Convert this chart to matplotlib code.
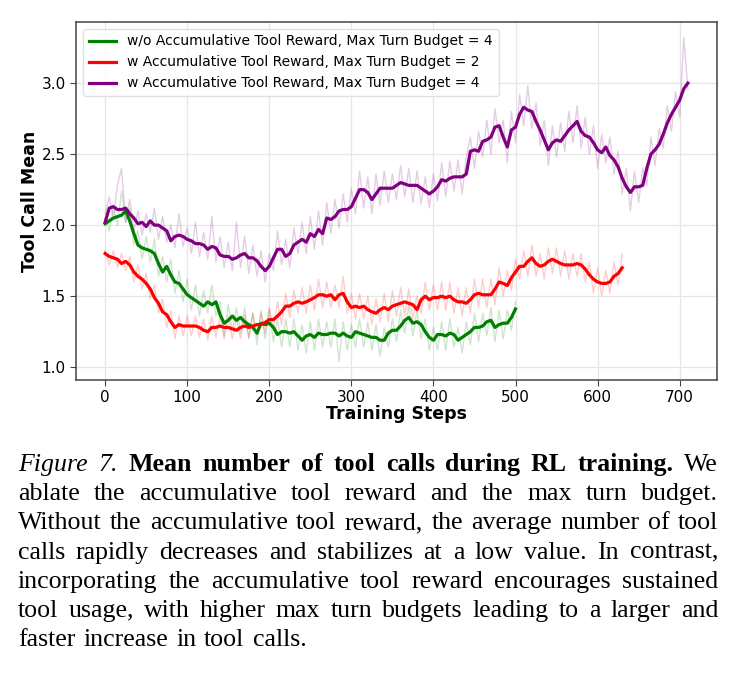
import numpy as np
import matplotlib
matplotlib.use("Agg")
import matplotlib.pyplot as plt

# smoothed curves, read every 5 training steps
steps_green = np.arange(0, 501, 5)
green_smooth = [2.01, 2.03, 2.05, 2.06, 2.07, 2.10, 2.03, 1.94, 1.86, 1.84, 1.83, 1.82, 1.80, 1.73, 1.67, 1.71, 1.65, 1.60, 1.59, 1.55,
                1.51, 1.49, 1.47, 1.45, 1.43, 1.46, 1.44, 1.46, 1.37, 1.31, 1.33, 1.36, 1.33, 1.35, 1.32, 1.30, 1.28, 1.24, 1.31, 1.30,
                1.31, 1.28, 1.23, 1.25, 1.25, 1.24, 1.25, 1.22, 1.19, 1.22, 1.23, 1.21, 1.24, 1.23, 1.23, 1.24, 1.24, 1.22, 1.24, 1.22,
                1.21, 1.25, 1.24, 1.23, 1.22, 1.21, 1.21, 1.19, 1.19, 1.24, 1.26, 1.26, 1.29, 1.33, 1.35, 1.31, 1.32, 1.30, 1.25, 1.21,
                1.19, 1.23, 1.23, 1.22, 1.24, 1.23, 1.19, 1.21, 1.23, 1.25, 1.28, 1.28, 1.29, 1.32, 1.33, 1.28, 1.30, 1.31, 1.31, 1.35,
                1.41]
green_raw = [2.05, 1.96, 2.14, 2.00, 2.24, 2.02, 2.12, 1.86, 1.96, 1.76, 1.92, 1.74, 1.90, 1.64, 1.78, 1.60, 1.76, 1.52, 1.68, 1.46,
             1.62, 1.40, 1.58, 1.36, 1.54, 1.38, 1.58, 1.36, 1.46, 1.22, 1.44, 1.26, 1.42, 1.24, 1.42, 1.20, 1.38, 1.16, 1.40, 1.20,
             1.40, 1.18, 1.34, 1.14, 1.34, 1.14, 1.34, 1.12, 1.30, 1.10, 1.32, 1.12, 1.34, 1.14, 1.32, 1.14, 1.34, 1.04, 1.32, 1.12,
             1.30, 1.14, 1.34, 1.14, 1.32, 1.12, 1.30, 1.08, 1.28, 1.14, 1.34, 1.18, 1.40, 1.24, 1.44, 1.22, 1.40, 1.20, 1.34, 1.12,
             1.28, 1.12, 1.32, 1.12, 1.34, 1.14, 1.28, 1.10, 1.32, 1.16, 1.38, 1.18, 1.38, 1.22, 1.42, 1.18, 1.40, 1.20, 1.40, 1.26,
             1.46]

steps_red = np.arange(0, 631, 5)
red_smooth = [1.80, 1.78, 1.77, 1.76, 1.73, 1.745, 1.72, 1.67, 1.64, 1.62, 1.59, 1.55, 1.49, 1.45, 1.39, 1.37, 1.32, 1.28, 1.30, 1.29,
              1.29, 1.29, 1.29, 1.28, 1.26, 1.25, 1.28, 1.28, 1.29, 1.28, 1.28, 1.27, 1.26, 1.28, 1.29, 1.28, 1.29, 1.30, 1.30, 1.315,
              1.335, 1.335, 1.36, 1.39, 1.43, 1.43, 1.45, 1.46, 1.45, 1.46, 1.475, 1.49, 1.51, 1.51, 1.50, 1.51, 1.475, 1.51, 1.52, 1.46,
              1.42, 1.43, 1.42, 1.43, 1.405, 1.39, 1.38, 1.405, 1.42, 1.405, 1.43, 1.44, 1.45, 1.46, 1.45, 1.44, 1.405, 1.475, 1.50, 1.475,
              1.49, 1.49, 1.50, 1.49, 1.50, 1.475, 1.46, 1.46, 1.45, 1.475, 1.51, 1.52, 1.51, 1.51, 1.51, 1.55, 1.60, 1.59, 1.575, 1.63,
              1.67, 1.71, 1.71, 1.745, 1.77, 1.73, 1.71, 1.72, 1.745, 1.76, 1.745, 1.73, 1.72, 1.72, 1.72, 1.73, 1.72, 1.69, 1.65, 1.62,
              1.60, 1.59, 1.59, 1.60, 1.64, 1.66, 1.70]
red_raw = [1.82, 1.72, 1.82, 1.70, 1.80, 1.68, 1.78, 1.60, 1.72, 1.55, 1.66, 1.48, 1.58, 1.38, 1.48, 1.28, 1.40, 1.20, 1.36, 1.22,
           1.36, 1.22, 1.36, 1.21, 1.34, 1.19, 1.36, 1.21, 1.36, 1.20, 1.36, 1.20, 1.34, 1.20, 1.37, 1.21, 1.38, 1.22, 1.38, 1.24,
           1.42, 1.26, 1.46, 1.30, 1.52, 1.35, 1.54, 1.38, 1.56, 1.38, 1.58, 1.40, 1.62, 1.42, 1.60, 1.42, 1.58, 1.42, 1.64, 1.38,
           1.52, 1.34, 1.52, 1.34, 1.50, 1.30, 1.48, 1.32, 1.52, 1.32, 1.54, 1.36, 1.56, 1.36, 1.55, 1.34, 1.50, 1.38, 1.60, 1.40,
           1.58, 1.40, 1.60, 1.40, 1.60, 1.38, 1.56, 1.36, 1.56, 1.38, 1.62, 1.42, 1.62, 1.42, 1.62, 1.44, 1.70, 1.50, 1.68, 1.54,
           1.76, 1.62, 1.82, 1.64, 1.86, 1.64, 1.80, 1.62, 1.84, 1.66, 1.84, 1.64, 1.82, 1.62, 1.80, 1.64, 1.80, 1.60, 1.74, 1.52,
           1.70, 1.50, 1.68, 1.52, 1.74, 1.58, 1.80]

steps_purple = np.arange(0, 711, 5)
purple_smooth = [2.02, 2.12, 2.13, 2.11, 2.11, 2.12, 2.08, 2.05, 2.01, 2.02, 1.99, 2.03, 2.00, 2.00, 1.98, 1.96, 1.89, 1.92, 1.93, 1.92,
                 1.90, 1.89, 1.87, 1.87, 1.86, 1.83, 1.85, 1.84, 1.79, 1.78, 1.78, 1.76, 1.77, 1.79, 1.80, 1.77, 1.77, 1.75, 1.71, 1.68,
                 1.71, 1.77, 1.83, 1.83, 1.78, 1.80, 1.86, 1.88, 1.90, 1.88, 1.94, 1.92, 1.97, 1.94, 2.05, 2.04, 2.06, 2.10, 2.11, 2.11,
                 2.13, 2.19, 2.25, 2.25, 2.23, 2.18, 2.22, 2.26, 2.26, 2.26, 2.26, 2.28, 2.30, 2.29, 2.28, 2.28, 2.28, 2.26, 2.24, 2.22,
                 2.24, 2.27, 2.32, 2.31, 2.33, 2.34, 2.34, 2.34, 2.36, 2.52, 2.53, 2.52, 2.59, 2.60, 2.62, 2.69, 2.70, 2.62, 2.55, 2.67,
                 2.69, 2.78, 2.83, 2.81, 2.80, 2.73, 2.67, 2.60, 2.53, 2.58, 2.60, 2.59, 2.63, 2.67, 2.70, 2.73, 2.66, 2.63, 2.62, 2.58,
                 2.53, 2.51, 2.55, 2.49, 2.46, 2.41, 2.33, 2.27, 2.23, 2.27, 2.27, 2.28, 2.40, 2.50, 2.53, 2.57, 2.64, 2.72, 2.78, 2.83,
                 2.88, 2.96, 3.00]
purple_raw = [2.08, 2.20, 2.05, 2.28, 2.40, 2.02, 2.18, 1.96, 2.10, 1.93, 2.08, 1.95, 2.12, 1.90, 2.06, 1.88, 2.00, 1.84, 2.08, 1.85,
              1.98, 1.80, 2.02, 1.78, 1.95, 1.76, 2.06, 1.74, 1.92, 1.70, 1.88, 1.68, 2.02, 1.70, 1.92, 1.66, 1.86, 1.64, 1.82, 1.60,
              1.80, 1.68, 1.96, 1.72, 1.90, 1.70, 1.98, 1.80, 2.02, 1.80, 2.06, 1.83, 2.10, 1.86, 2.16, 1.94, 2.18, 1.98, 2.22, 2.02,
              2.26, 2.08, 2.38, 2.12, 2.34, 2.08, 2.36, 2.14, 2.38, 2.16, 2.36, 2.18, 2.42, 2.20, 2.40, 2.16, 2.38, 2.15, 2.34, 2.12,
              2.36, 2.17, 2.44, 2.20, 2.45, 2.24, 2.46, 2.22, 2.48, 2.62, 2.40, 2.66, 2.48, 2.74, 2.50, 2.82, 2.58, 2.74, 2.44, 2.80,
              2.58, 2.92, 2.70, 2.98, 2.68, 2.86, 2.56, 2.74, 2.42, 2.70, 2.48, 2.72, 2.52, 2.80, 2.58, 2.84, 2.54, 2.76, 2.50, 2.70,
              2.40, 2.64, 2.44, 2.62, 2.36, 2.52, 2.22, 2.40, 2.10, 2.38, 2.16, 2.40, 2.28, 2.62, 2.42, 2.68, 2.54, 2.84, 2.66, 2.94,
              2.76, 3.32, 2.96]

labels = ["w/o Accumulative Tool Reward, Max Turn Budget = 4",
          "w Accumulative Tool Reward, Max Turn Budget = 2",
          "w Accumulative Tool Reward, Max Turn Budget = 4"]

caption = [
    [("Figure", "italic", "normal"), ("7.", "italic", "normal"), ("Mean", "normal", "bold"), ("number", "normal", "bold"),
     ("of", "normal", "bold"), ("tool", "normal", "bold"), ("calls", "normal", "bold"), ("during", "normal", "bold"),
     ("RL", "normal", "bold"), ("training.", "normal", "bold"), ("We", "normal", "normal")],
    "ablate the accumulative tool reward and the max turn budget.",
    "Without the accumulative tool reward, the average number of tool",
    "calls rapidly decreases and stabilizes at a low value. In contrast,",
    "incorporating the accumulative tool reward encourages sustained",
    "tool usage, with higher max turn budgets leading to a larger and",
    "faster increase in tool calls.",
]

W, H = 738, 675
fig = plt.figure(figsize=(W / 100, H / 100), dpi=100)
ax = fig.add_axes([76 / W, 1 - 380 / H, (717 - 76) / W, (380 - 22) / H])

series = [(steps_green, green_raw, green_smooth, "green"),
          (steps_red, red_raw, red_smooth, "red"),
          (steps_purple, purple_raw, purple_smooth, "purple")]
for x, raw, sm, c in series:
    ax.plot(x, raw, color=c, alpha=0.2, lw=1.0)
for (x, raw, sm, c), lab in zip(series, labels):
    ax.plot(x, sm, color=c, lw=2.3, label=lab)

ax.set_xlim(-35.5, 745.5)
ax.set_ylim(0.91, 3.43)
ax.set_xticks(range(0, 701, 100))
ax.set_yticks([1.0, 1.5, 2.0, 2.5, 3.0])
ax.tick_params(labelsize=11, length=4, color="#444444")
ax.grid(True, color="#e6e6e6", lw=0.9)
ax.set_axisbelow(True)
for s in ax.spines.values():
    s.set_color("#444444")
    s.set_linewidth(1.1)
ax.set_xlabel("Training Steps", fontsize=12.5, fontweight="bold", labelpad=0)
ax.set_ylabel("Tool Call Mean", fontsize=12.5, fontweight="bold", labelpad=2)
ax.legend(loc="upper left", fontsize=10, framealpha=0.9, edgecolor="#dddddd")

# caption, justified word by word
renderer = fig.canvas.get_renderer()
left, right = 18, 718
y0, dy = 471, 29.2
fs = 18.6
for i, line in enumerate(caption):
    if isinstance(line, str):
        words = [(w, "normal", "normal") for w in line.split()]
    else:
        words = line
    y = 1 - (y0 + i * dy) / H
    texts = [fig.text(0, y, w, fontsize=fs, family="Liberation Serif", style=st, weight=wt, va="baseline")
             for w, st, wt in words]
    widths = [t.get_window_extent(renderer).width for t in texts]
    if i == len(caption) - 1:
        gap = fig.text(0, 0, "a b", fontsize=fs, family="Liberation Serif").get_window_extent(renderer).width \
              - 2 * fig.text(0, 0, "a", fontsize=fs, family="Liberation Serif").get_window_extent(renderer).width
        for t in fig.texts[-2:]:
            t.remove()
    else:
        gap = (right - left - sum(widths)) / (len(words) - 1)
    xpos = left
    for t, w in zip(texts, widths):
        t.set_x(xpos / W)
        xpos += w + gap

fig.savefig("out.png", dpi=100)
